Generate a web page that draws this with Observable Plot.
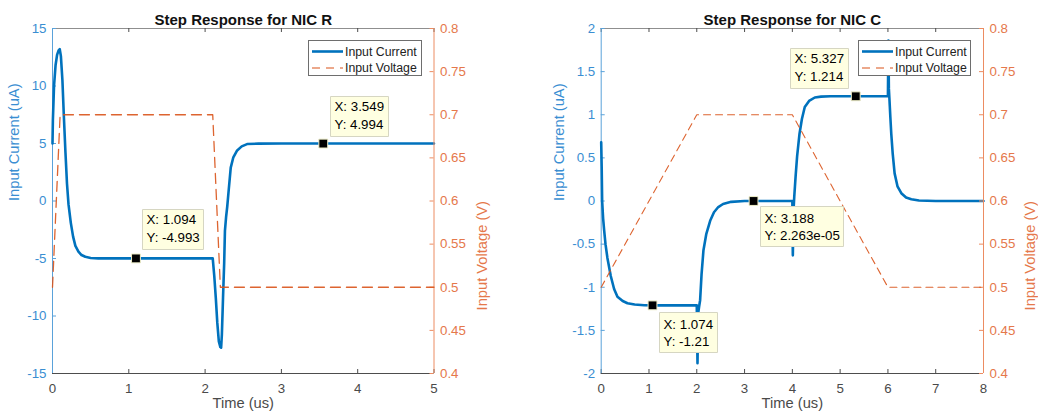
<!DOCTYPE html>
<html>
<head>
<meta charset="utf-8">
<script src="https://cdn.jsdelivr.net/npm/d3@7"></script>
<script src="https://cdn.jsdelivr.net/npm/@observablehq/plot@0.6"></script>
<style>
  body { margin: 0; background: #fff; }
  #fig { position: relative; width: 1038px; height: 418px; background: #fff; overflow: hidden; }
  #fig svg { position: absolute; top: 0; }
  #fig svg [aria-label="tip"], #fig svg [aria-label="tip"] * { filter: none !important; }
</style>
</head>
<body>
<div id="fig"></div>
<script>
// ---------------- data ----------------
// Panel 1: NIC R
const titleR = "Step Response for NIC R";
const xTicksR = [0, 1, 2, 3, 4, 5];
const iTicksR = [-15, -10, -5, 0, 5, 10, 15];
const tCurR = [0,0.005,0.02,0.04,0.06,0.08,0.095,0.11,0.13,0.15,0.17,0.19,0.21,0.24,0.27,0.30,0.34,0.38,0.43,0.5,0.6,0.75,1.0,1.5,2.1,2.12,2.14,2.16,2.18,2.2,2.21,2.22,2.235,2.25,2.26,2.275,2.29,2.31,2.336,2.37,2.42,2.48,2.55,2.7,3,4,5];
const iCurR = [5,7,10,11.8,12.7,13.1,13.2,12.6,10.5,7.2,4.2,1.5,-0.3,-1.9,-3.1,-3.9,-4.4,-4.7,-4.85,-4.95,-4.985,-4.992,-4.993,-4.993,-4.993,-6.5,-8.4,-10.6,-12.2,-12.7,-12.75,-11.6,-8.4,-5.4,-2.6,-1.4,-0.5,1.0,2.9,3.8,4.4,4.75,4.95,4.99,4.994,4.994,4.994];
const tVoltR = [0, 0.1, 2.1, 2.2, 5];
const vVoltR = [0.5, 0.7, 0.7, 0.5, 0.5];
const tipXR = [1.094, 3.549];
const tipYR = [-4.993, 4.994];

// Panel 2: NIC C
const titleC = "Step Response for NIC C";
const xTicksC = [0, 1, 2, 3, 4, 5, 6, 7, 8];
const iTicksC = [-2, -1.5, -1, -0.5, 0, 0.5, 1, 1.5, 2];
const tCurC = [0,0.01,0.02,0.04,0.06,0.09,0.13,0.2,0.27,0.34,0.45,0.55,0.7,0.9,1.2,2.0,2.015,2.03,2.05,2.07,2.1,2.14,2.2,2.28,2.36,2.45,2.55,2.72,3.0,4.0,4.01,4.025,4.04,4.07,4.1,4.15,4.2,4.26,4.35,4.47,4.6,4.8,6.0,6.01,6.02,6.03,6.05,6.07,6.1,6.14,6.2,6.28,6.38,6.49,6.65,7,8];
const iCurC = [0.68,0.4,0.0,-0.2,-0.33,-0.5,-0.66,-0.87,-1.02,-1.11,-1.16,-1.185,-1.2,-1.208,-1.21,-1.21,-1.88,-1.3,-1.22,-1.15,-0.85,-0.57,-0.38,-0.23,-0.13,-0.07,-0.035,-0.01,0,0,-0.63,-0.1,0.05,0.3,0.52,0.78,0.95,1.09,1.16,1.2,1.21,1.214,1.214,1.86,1.3,1.2,0.98,0.78,0.55,0.32,0.17,0.09,0.04,0.02,0.005,0,0];
const tVoltC = [0, 2, 4, 6, 8];
const vVoltC = [0.5, 0.7, 0.7, 0.5, 0.5];
const tipXC = [1.074, 3.188, 5.327];
const tipYC = [-1.21, 2.263e-5, 1.214];

// shared
const vTicks = [0.4, 0.45, 0.5, 0.55, 0.6, 0.65, 0.7, 0.75, 0.8];
const xLabel = "Time (us)";
const iLabel = "Input Current (uA)";
const vLabel = "Input Voltage (V)";
const seriesNames = ["Input Current", "Input Voltage"];

// ---------------- style ----------------
const W = 519, H = 418, MT = 28, MB = 45;
const FONT = '"Liberation Sans", Arial, Helvetica, sans-serif';
const BLUE = "#0072BD", ORANGE = "#D95319";
const BLUE_AX = "#5AA2DA", BLUE_TXT = "#3A8ED2";
const ORANGE_AX = "#EC8C62", ORANGE_TXT = "#E5784B";
const GRAY_AX = "#4D4D4D", GRAY_TOP = "#8F8F8F", GRAY_TXT = "#4A4A4A";

function g4(v) {
  if (v !== 0 && Math.abs(v) < 1e-4) {
    return v.toExponential(3).replace(/e([+-])(\d)$/, "e$10$2");
  }
  return String(+v.toPrecision(4));
}

const fig = document.getElementById("fig");

function drawPanel(cfg) {
  const innerW = W - cfg.mL - cfg.mR, innerH = H - MT - MB;
  const xDomain = d3.extent(cfg.xTicks);
  const iDomain = d3.extent(cfg.iTicks);
  const vDomain = d3.extent(vTicks);
  const base = {
    width: W, height: H,
    marginLeft: cfg.mL, marginRight: cfg.mR, marginTop: MT, marginBottom: MB,
    style: {fontFamily: FONT, fontSize: "13.3px", background: "transparent", overflow: "visible", color: "#000"}
  };
  const cur = cfg.tCur.map((t, k) => ({t, v: cfg.iCur[k]}));
  const volt = cfg.tVolt.map((t, k) => ({t, v: cfg.vVolt[k]}));
  const tips = cfg.tipX.map((x, k) => ({x, y: cfg.tipY[k], label: `X: ${g4(x)}\nY: ${g4(cfg.tipY[k])}`}));

  // current (left axis)
  const pCur = Plot.plot({
    ...base,
    x: {domain: xDomain, axis: null},
    y: {domain: iDomain, axis: null},
    marks: [
      Plot.ruleY([iDomain[1]], {stroke: GRAY_TOP, strokeWidth: 1}),
      Plot.tickX(cfg.xTicks, {x: d => d, insetBottom: innerH - 4, stroke: GRAY_AX}),
      Plot.tickX(cfg.xTicks, {x: d => d, insetTop: innerH - 4, stroke: GRAY_AX}),
      Plot.tickY(cfg.iTicks, {y: d => d, insetRight: innerW - 4, stroke: BLUE_AX}),
      Plot.ruleY([iDomain[0]], {stroke: GRAY_AX, strokeWidth: 1}),
      Plot.ruleX([xDomain[0]], {stroke: BLUE_AX, strokeWidth: 1}),
      Plot.axisX(cfg.xTicks, {tickSize: 0, tickPadding: 10, tickFormat: d => String(d), color: GRAY_TXT, fontSize: 13.3, label: null}),
      Plot.axisY(cfg.iTicks, {anchor: "left", tickSize: 0, tickPadding: 6, tickFormat: d => String(d), color: BLUE_TXT, fontSize: 13.3, label: null}),
      Plot.line(cur, {x: "t", y: "v", stroke: BLUE, strokeWidth: 2.6}),
      Plot.text([cfg.title], {text: d => d, frameAnchor: "top", dy: -14, fontWeight: "bold", fontSize: 15, fill: "#111"}),
      Plot.text([xLabel], {text: d => d, frameAnchor: "bottom", dy: 34, fontSize: 14.7, fill: GRAY_TXT}),
      Plot.text([iLabel], {text: d => d, frameAnchor: "left", rotate: -90, dx: cfg.iLabelDx, fontSize: 14.7, fill: BLUE_TXT})
    ]
  });

  // voltage (right axis)
  const pVolt = Plot.plot({
    ...base,
    x: {domain: xDomain, axis: null},
    y: {domain: vDomain, axis: null},
    marks: [
      Plot.tickY(vTicks, {y: d => d, insetLeft: innerW - 4, stroke: ORANGE_AX}),
      Plot.ruleX([xDomain[1]], {stroke: ORANGE_AX, strokeWidth: 1}),
      Plot.axisY(vTicks, {anchor: "right", tickSize: 0, tickPadding: 6, tickFormat: d => String(d), color: ORANGE_TXT, fontSize: 13.3, label: null}),
      Plot.line(volt, {x: "t", y: "v", stroke: ORANGE, strokeWidth: cfg.dashW, strokeDasharray: cfg.dash, strokeOpacity: 0.9}),
      Plot.text([vLabel], {text: d => d, frameAnchor: "right", rotate: -90, dx: cfg.vLabelDx, fontSize: 14.7, fill: ORANGE_TXT})
    ]
  });

  // data tips (current scale)
  const pTips = Plot.plot({
    ...base,
    x: {domain: xDomain, axis: null},
    y: {domain: iDomain, axis: null},
    marks: [
      Plot.dot(tips, {x: "x", y: "y", symbol: "square", r: 5, fill: "#000", stroke: "#EDEDC8", strokeWidth: 1}),
      ...tips.map((d, k) => Plot.tip([d], {
        x: "x", y: "y", title: "label",
        anchor: cfg.tipLayout[k].anchor, dx: cfg.tipLayout[k].dx, dy: cfg.tipLayout[k].dy,
        pointerSize: 0, textPadding: 4, lineHeight: 1.3, fontSize: 13.3, fontFamily: FONT,
        fill: "#FFFFE1", stroke: "#D6D6C2", strokeWidth: 1, pathFilter: "none"
      }))
    ]
  });

  for (const p of [pCur, pVolt, pTips]) {
    p.style.left = cfg.left + "px";
    fig.appendChild(p);
  }

  // legend box
  const lg = d3.create("svg")
    .attr("width", cfg.legend.w).attr("height", cfg.legend.h)
    .style("left", cfg.legend.x + "px").style("top", cfg.legend.y + "px");
  lg.append("rect").attr("x", 0.5).attr("y", 0.5).attr("width", cfg.legend.w - 1).attr("height", cfg.legend.h - 1)
    .attr("fill", "#fff").attr("stroke", "#6E6E6E");
  const rows = [
    {name: seriesNames[0], stroke: BLUE, w: 2.6, dash: null},
    {name: seriesNames[1], stroke: ORANGE, w: 1.2, dash: "8,6"}
  ];
  rows.forEach((r, k) => {
    const cy = 11.5 + k * 16.5;
    lg.append("line").attr("x1", 4).attr("x2", 35).attr("y1", cy).attr("y2", cy)
      .attr("stroke", r.stroke).attr("stroke-width", r.w).attr("stroke-dasharray", r.dash);
    lg.append("text").attr("x", 37).attr("y", cy).attr("dy", "0.35em")
      .attr("font-family", FONT).attr("font-size", 12.3).attr("fill", "#222").text(r.name);
  });
  fig.appendChild(lg.node());
}

drawPanel({
  left: 0, mL: 52, mR: 85.5,
  title: titleR, xTicks: xTicksR, iTicks: iTicksR,
  tCur: tCurR, iCur: iCurR, tVolt: tVoltR, vVolt: vVoltR,
  tipX: tipXR, tipY: tipYR,
  tipLayout: [{anchor: "bottom-left", dx: 7, dy: -9}, {anchor: "bottom-left", dx: 7, dy: -7}],
  dash: "10,6", dashW: 1.3,
  iLabelDx: -38, vLabelDx: 48.5,
  legend: {x: 308, y: 40, w: 114, h: 36}
});

drawPanel({
  left: 519, mL: 81.7, mR: 55,
  title: titleC, xTicks: xTicksC, iTicks: iTicksC,
  tCur: tCurC, iCur: iCurC, tVolt: tVoltC, vVolt: vVoltC,
  tipX: tipXC, tipY: tipYC,
  tipLayout: [{anchor: "top-left", dx: 7, dy: 7}, {anchor: "top-left", dx: 7, dy: 6}, {anchor: "bottom-right", dx: -7, dy: -8}],
  dash: "7,5", dashW: 1.1,
  iLabelDx: -41.7, vLabelDx: 47,
  legend: {x: 858, y: 40, w: 113, h: 36}
});
</script>
</body>
</html>
